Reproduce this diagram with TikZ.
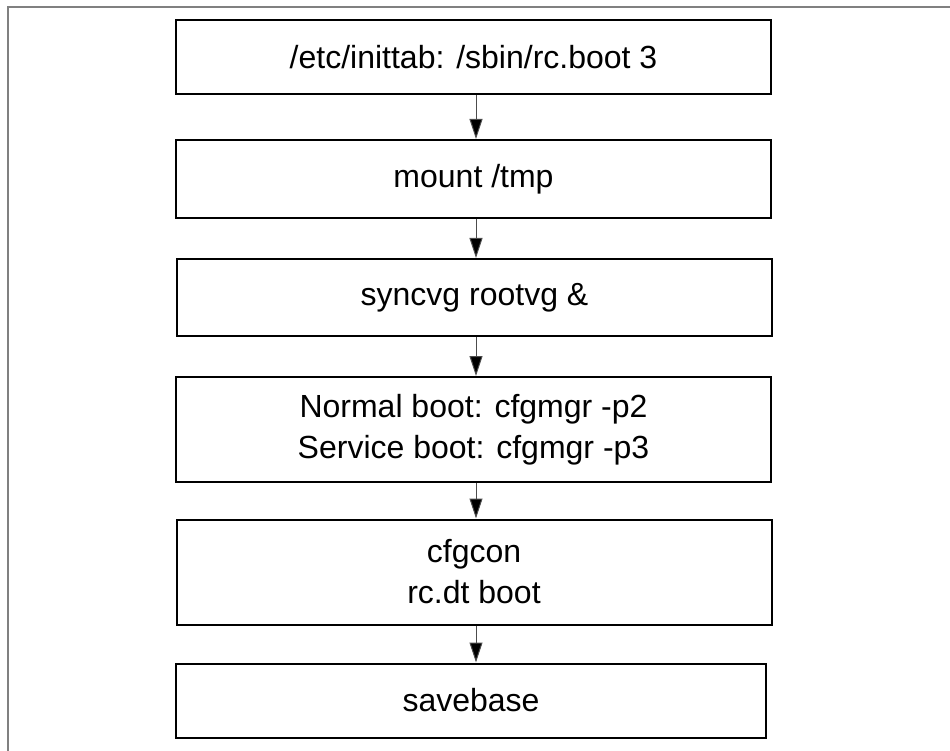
\documentclass[tikz,border=0pt]{standalone}
\usepackage{fontspec}
\setmainfont{Liberation Sans}
\usetikzlibrary{arrows.meta}
\begin{document}
\begin{tikzpicture}[x=1pt,y=-1pt,
  stepbox/.style={draw=black, line width=2pt, fill=white, minimum width=595pt,
    inner sep=0pt, align=center, font=\fontsize{32}{41}\selectfont},
  arr/.style={draw=black!70, line width=1pt, -{Triangle[length=20pt,width=13pt,fill=black]}},
  frame/.style={draw=black!50, line width=2pt}]
\useasboundingbox (0,0) rectangle (950,751);
\draw[frame] (8,751) -- (8,7) -- (950,7);
\coordinate (ax) at (476,0);
\node[stepbox, minimum height=74pt]  (b1) at (473.5,57)    {/etc/inittab: /sbin/rc.boot 3};
\node[stepbox, minimum height=78pt]  (b2) at (473.5,179)   {mount /tmp};
\node[stepbox, minimum height=77pt]  (b3) at (474.5,297.5) {syncvg rootvg \&};
\node[stepbox, minimum height=105pt] (b4) at (473.5,429.5) {Normal boot: cfgmgr -p2\\Service boot: cfgmgr -p3};
\node[stepbox, minimum height=105pt] (b5) at (474,572)     {cfgcon\\rc.dt boot};
\node[stepbox, minimum height=74pt, minimum width=590pt]  (b6) at (471,700.5)   {savebase};
\draw[arr] (b1.south -| ax) -- (b2.north -| ax);
\draw[arr] (b2.south -| ax) -- (b3.north -| ax);
\draw[arr] (b3.south -| ax) -- (b4.north -| ax);
\draw[arr] (b4.south -| ax) -- (b5.north -| ax);
\draw[arr] (b5.south -| ax) -- (b6.north -| ax);
\end{tikzpicture}
\end{document}
